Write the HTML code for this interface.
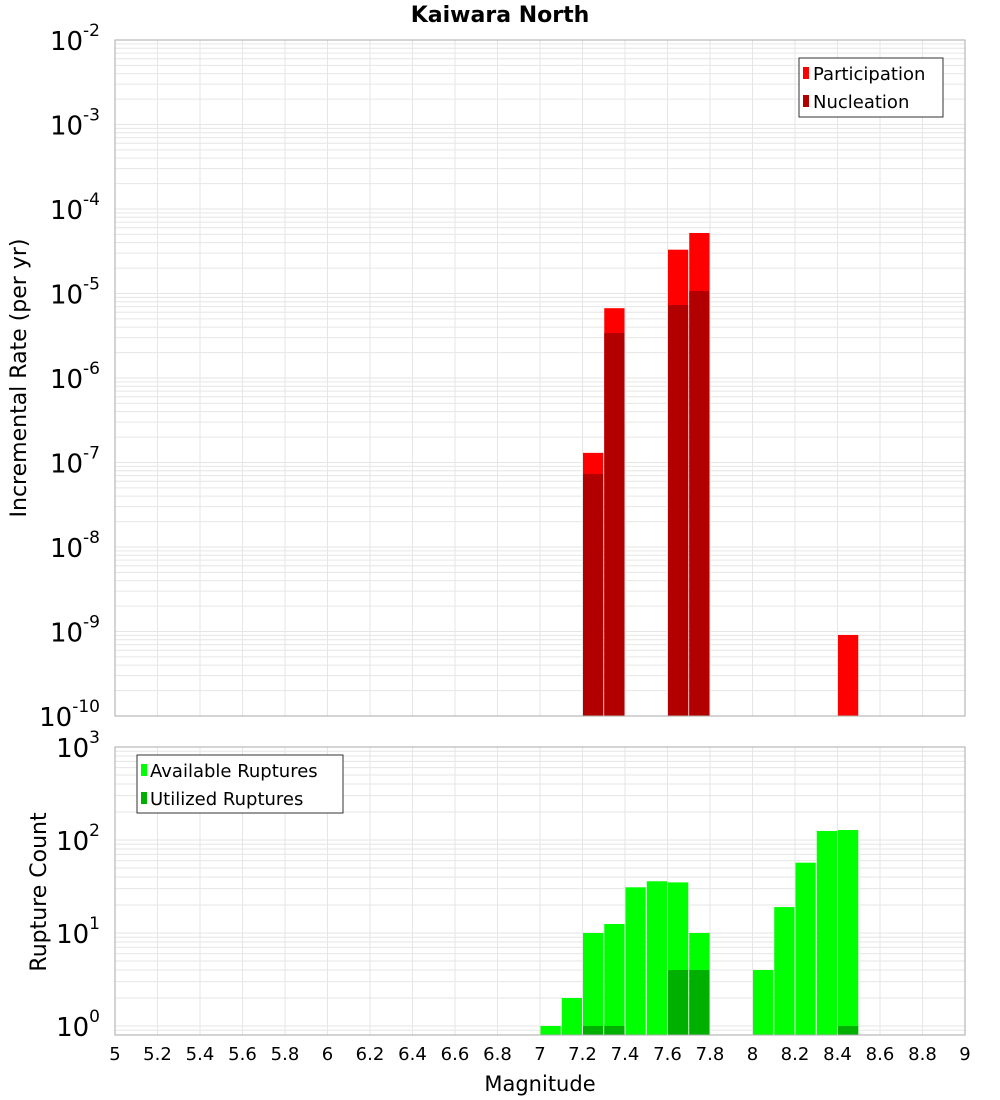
<!DOCTYPE html>
<html><head><meta charset="utf-8"><style>
body{margin:0;background:#fff;font-family:"DejaVu Sans","Liberation Sans",sans-serif;}
svg{display:block}
</style></head><body>
<svg id="chart" width="1000" height="1100" xmlns="http://www.w3.org/2000/svg">
<text x="500" y="22" text-anchor="middle" font-size="22" font-weight="bold">Kaiwara North</text>
<g id="topPanel"></g>
<g id="botPanel"></g>
<text x="540" y="1091" text-anchor="middle" font-size="21">Magnitude</text>
<text transform="translate(26,378) rotate(-90)" text-anchor="middle" font-size="22">Incremental Rate (per yr)</text>
<text transform="translate(46,892) rotate(-90)" text-anchor="middle" font-size="22">Rupture Count</text>
<g>
<rect x="799" y="58" width="144" height="59" fill="#fff" stroke="#333"/>
<rect x="803" y="67" width="6" height="12" fill="#ff0000"/>
<text x="813" y="80" font-size="18">Participation</text>
<rect x="803" y="95" width="6" height="12" fill="#b20000"/>
<text x="813" y="108" font-size="18">Nucleation</text>
</g>
<g>
<rect x="137" y="755" width="206" height="58" fill="#fff" stroke="#333"/>
<rect x="141" y="764" width="6" height="12" fill="#00ff00"/>
<text x="150" y="777" font-size="18">Available Ruptures</text>
<rect x="141" y="792" width="6" height="12" fill="#00b000"/>
<text x="150" y="805" font-size="18">Utilized Ruptures</text>
</g>
</svg>
<script>
const binCenters=[7.05,7.15,7.25,7.35,7.45,7.55,7.65,7.75,7.85,7.95,8.05,8.15,8.25,8.35,8.45];
const participation=[0,0,1.3e-7,6.7e-6,0,0,3.3e-5,5.2e-5,0,0,0,0,0,0,9.1e-10];
const nucleation=[0,0,7.3e-8,3.4e-6,0,0,7.3e-6,1.07e-5,0,0,0,0,0,0,0];
const available=[1,2,10,12.5,31,36,35,10,0,0,4,19,57,125,128];
const utilized=[0,0,1,1,0,0,4,4,0,0,0,0,0,0,1];
const xTicks=[5,5.2,5.4,5.6,5.8,6,6.2,6.4,6.6,6.8,7,7.2,7.4,7.6,7.8,8,8.2,8.4,8.6,8.8,9];
const topExps=[-10,-9,-8,-7,-6,-5,-4,-3,-2];
const botExps=[0,1,2,3];
{
const NS="http://www.w3.org/2000/svg";
const X0=115,X1=965;
const xs=v=>X0+(v-5)/4*(X1-X0);
function mk(p,tag,a){const e=document.createElementNS(NS,tag);for(const k in a)e.setAttribute(k,a[k]);p.appendChild(e);return e;}
function panel(g,yTop,yBot,lmin,lmax,expLabels){
  const ys=v=>yBot-(Math.log10(v)-lmin)/(lmax-lmin)*(yBot-yTop);
  for(let d=Math.floor(lmin);d<lmax;d++)for(let m=1;m<10;m++){const v=m*Math.pow(10,d);const y=ys(v);if(y<yTop-0.1||y>yBot)continue;
    const l=mk(g,'line',{x1:X0,x2:X1,y1:y,y2:y,stroke:'#e6e6e6','stroke-width':1});
    
    }
  xTicks.forEach(t=>{const l=mk(g,'line',{x1:xs(t),x2:xs(t),y1:yTop,y2:yBot,stroke:'#e6e6e6'});
    
    });
  expLabels.forEach(e=>{const y=ys(Math.pow(10,e));const t=mk(g,'text',{x:100,y:y+10,'text-anchor':'end','font-size':26});
    
    
    t.textContent='10';const s=mk(t,'tspan',{dy:-14,'font-size':17});s.textContent=String(e);});
  return ys;
}
const topG=document.getElementById('topPanel'),botG=document.getElementById('botPanel');
const yT=panel(topG,40,716,-10,-2,topExps);
const yB=panel(botG,747,1035,Math.log10(0.8),3,botExps);
const bw=(X1-X0)/40;
function bars(g,arr,ys,yBot,fill,name){arr.forEach((v,i)=>{if(v<=0)return;const x=xs(binCenters[i])-bw/2+0.5;const y=ys(v);
  const r=mk(g,'rect',{x:x,y:y,width:bw-1,height:yBot-y,fill:fill});
  
  });}
bars(topG,participation,yT,716,'#ff0000','participation-bar');
bars(topG,nucleation,yT,716,'#b20000','nucleation-bar');
bars(botG,available,yB,1035,'#00ff00','available-bar');
bars(botG,utilized,yB,1035,'#00b000','utilized-bar');
mk(topG,'rect',{x:X0,y:40,width:X1-X0,height:676,fill:'none',stroke:'#aaa'});
mk(botG,'rect',{x:X0,y:747,width:X1-X0,height:288,fill:'none',stroke:'#aaa'});
xTicks.forEach(t=>{const e=mk(botG,'text',{x:xs(t),y:1060,'text-anchor':'middle','font-size':18});
  
  
  e.textContent=String(t);});
}
</script>
</body></html>
